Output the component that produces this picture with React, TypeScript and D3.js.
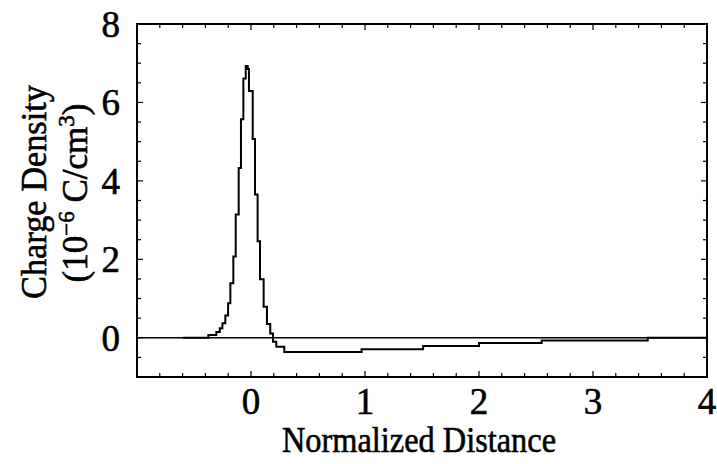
import React from "react";
import * as d3 from "d3";

// Step positions (left edge of each step, normalized distance) and charge density values
const stepX = [
  -0.6, -0.374, -0.304, -0.274, -0.251, -0.225, -0.201, -0.181, -0.155, -0.134,
  -0.108, -0.088, -0.067, -0.046, -0.029, -0.018, 0.015, 0.035, 0.058, 0.079,
  0.111, 0.14, 0.169, 0.193, 0.222, 0.292, 0.97, 1.51, 2.0, 2.55, 3.48, 4.0,
];
const density = [
  0, 0.07, 0.15, 0.24, 0.37, 0.57, 0.88, 1.39, 2.07, 3.14,
  4.33, 5.57, 6.61, 6.93, 6.85, 6.29, 5.07, 3.65, 2.46, 1.49,
  0.79, 0.35, 0.11, -0.1, -0.23, -0.36, -0.29, -0.21, -0.13, -0.07, 0.0, 0.0,
];

const xTickLabels = [0, 1, 2, 3, 4];
const yTickLabels = [0, 2, 4, 6, 8];
const xDomain: [number, number] = [-1, 4];
const yDomain: [number, number] = [-1, 8];

const W = 717;
const H = 464;
const M = { left: 137, right: 707, top: 24, bottom: 377 };
const FONT = "'Liberation Serif', 'Times New Roman', serif";

export default function App() {
  const x = d3.scaleLinear().domain(xDomain).range([M.left, M.right]);
  const y = d3.scaleLinear().domain(yDomain).range([M.bottom, M.top]);

  const pts: [number, number][] = stepX.map((s, i) => [s, density[i]]);
  const line = d3
    .line<[number, number]>()
    .x((d) => x(d[0]))
    .y((d) => y(d[1]))
    .curve(d3.curveStepAfter);

  const xMinor = d3.range(-1, 4.0001, 0.2).map((v) => Math.round(v * 10) / 10);
  const yMinor = d3.range(-1, 8.0001, 0.5);
  const tk = 4;
  const tkMaj = 6;
  const txt = { fill: "#000", stroke: "#000", strokeWidth: 0.6 };

  return (
    <svg
      width={W}
      height={H}
      style={{ position: "absolute", left: 0, top: 0, background: "#fff" }}
      fontFamily={FONT}
    >
      <rect x={0} y={0} width={W} height={H} fill="#fff" />
      {/* zero line */}
      <line x1={x(-1)} x2={x(4)} y1={y(0)} y2={y(0)} stroke="#000" strokeWidth={1.5} />
      {/* curve */}
      <path d={line(pts) || ""} fill="none" stroke="#000" strokeWidth={2} />

      {/* ticks bottom & top */}
      {xMinor.map((v, i) => {
        const maj = Math.abs(v - Math.round(v)) < 1e-6;
        const L = maj ? tkMaj : tk;
        return (
          <g key={"xt" + i} stroke="#000" strokeWidth={1.2}>
            <line x1={x(v)} x2={x(v)} y1={M.bottom} y2={M.bottom - L} />
            <line x1={x(v)} x2={x(v)} y1={M.top} y2={M.top + L} />
          </g>
        );
      })}
      {yMinor.map((v, i) => {
        const maj = Math.abs(v / 2 - Math.round(v / 2)) < 1e-6;
        const L = maj ? tkMaj : tk;
        return (
          <g key={"yt" + i} stroke="#000" strokeWidth={1.2}>
            <line x1={M.left} x2={M.left + L} y1={y(v)} y2={y(v)} />
            <line x1={M.right} x2={M.right - L} y1={y(v)} y2={y(v)} />
          </g>
        );
      })}

      {/* frame */}
      <rect
        x={M.left}
        y={M.top}
        width={M.right - M.left}
        height={M.bottom - M.top}
        fill="none"
        stroke="#000"
        strokeWidth={2}
      />

      {/* tick labels */}
      {xTickLabels.map((v) => (
        <text key={"xl" + v} x={x(v)} y={414} textAnchor="middle" fontSize={37} {...txt}>
          {v}
        </text>
      ))}
      {yTickLabels.map((v) => (
        <text key={"yl" + v} x={120} y={y(v) + 13} textAnchor="end" fontSize={37} {...txt}>
          {v}
        </text>
      ))}

      {/* axis titles */}
      <text
        x={419}
        y={452}
        textAnchor="middle"
        fontSize={36}
        textLength={274}
        lengthAdjust="spacingAndGlyphs"
        {...txt}
      >
        Normalized Distance
      </text>
      <text
        transform={`translate(46,192) rotate(-90)`}
        textAnchor="middle"
        fontSize={35}
        textLength={214}
        lengthAdjust="spacingAndGlyphs"
        {...txt}
      >
        Charge Density
      </text>
      <text
        transform={`translate(87,193) rotate(-90)`}
        textAnchor="middle"
        fontSize={35}
        {...txt}
      >
        (10
        <tspan dy={-13} fontSize={23}>
          −6
        </tspan>
        <tspan dy={13}> C/cm</tspan>
        <tspan dy={-13} fontSize={23}>
          3
        </tspan>
        <tspan dy={13}>)</tspan>
      </text>
    </svg>
  );
}
